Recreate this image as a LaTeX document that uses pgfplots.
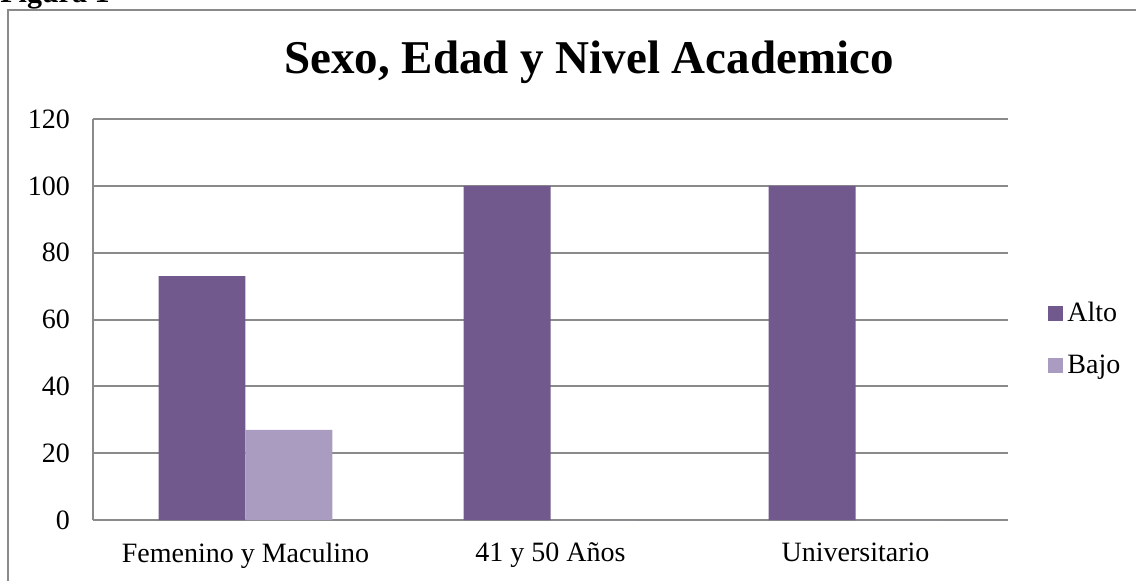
\documentclass[border=0pt]{standalone}
\usepackage{fontspec}
\setmainfont{Liberation Serif}
\usepackage{pgfplots}
\pgfplotsset{compat=1.18}
\definecolor{alto}{RGB}{114,89,141}
\definecolor{bajo}{RGB}{170,155,192}
\definecolor{gridc}{RGB}{138,138,138}
\begin{document}
\begin{tikzpicture}
\useasboundingbox (0pt,0pt) rectangle (568pt,290pt);
\draw[gridc, line width=1pt] (4pt,-10pt) -- (4pt,285pt) -- (570pt,285pt);
\node[anchor=base west, inner sep=0, font=\fontsize{15}{17}\selectfont\bfseries] at (0pt,288.5pt) {Figura 1};
\node[anchor=base, inner sep=0, font=\fontsize{23.5}{27}\selectfont\bfseries] at (294.5pt,253.5pt) {Sexo, Edad y Nivel Academico};
\begin{axis}[
  at={(46.5pt,30pt)}, anchor=south west,
  scale only axis, width=457.5pt, height=200.5pt,
  ybar=0pt, bar width=0.285,
  xmin=-0.5, xmax=2.5, ymin=0, ymax=120,
  xtick={0,1,2},
  xticklabels={Femenino y Maculino, 41 y 50 Años, Universitario},
  ytick={0,20,...,120},
  ymajorgrids,
  grid style={gridc, line width=1pt},
  axis x line*=bottom, axis y line*=left,
  axis line style={gridc, line width=1pt, -},
  major tick length=0pt,
  tick label style={font=\fontsize{14}{16}\selectfont},
  /pgf/number format/assume math mode=true,
  yticklabel style={xshift=-8pt},
  xticklabel style={yshift=-8pt},
  legend image code/.code={\path[#1] (0pt,-3.5pt) rectangle (7.5pt,4pt);},
  legend style={at={(1,0.45)}, anchor=west, xshift=17pt, draw=none, fill=none,
    font=\fontsize{14}{16}\selectfont, row sep=11pt,
    nodes={inner sep=2pt},
    /tikz/every even column/.append style={column sep=3pt}},
  legend cell align=left,
]
\addplot[draw=none, fill=alto] coordinates {(0,73) (1,100) (2,100)};
\addplot[draw=none, fill=bajo] coordinates {(0,27) (1,0) (2,0)};
\legend{Alto, Bajo}
\end{axis}
\end{tikzpicture}
\end{document}
